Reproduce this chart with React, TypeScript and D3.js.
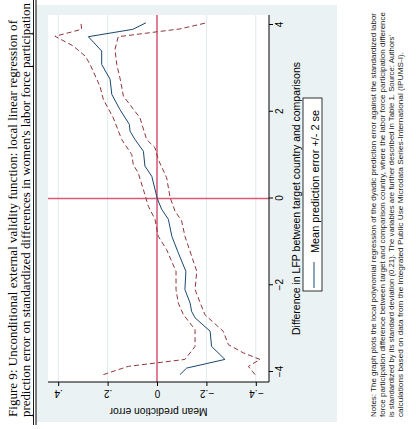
import React, { useEffect, useRef } from 'react';
import * as d3 from 'd3';

// Standardized LFP difference (x) vs. mean prediction error (y)
const lfpTicks = [-4, -2, 0, 2, 4];
const errTicks = [-0.4, -0.2, 0, 0.2, 0.4];

const meanErr: [number, number][] = [
  [-4.06, -0.093], [-3.91, -0.12], [-3.71, -0.275], [-3.41, -0.221], [-3.06, -0.215],
  [-2.75, -0.154], [-2.6, -0.14], [-2.41, -0.134], [-2.1, -0.113], [-1.68, -0.117],
  [-1.25, -0.086], [-0.87, -0.06], [-0.48, -0.046], [-0.25, -0.019], [0.0, -0.001],
  [0.51, 0.021], [0.75, 0.049], [1.09, 0.055], [1.36, 0.089], [1.55, 0.109],
  [1.71, 0.112], [2.05, 0.15], [2.4, 0.183], [2.75, 0.19], [3.09, 0.224],
  [3.4, 0.224], [3.73, 0.278], [3.9, 0.098], [4.05, 0.045],
];

const upperBand: [number, number][] = [
  [-4.06, 0.217], [-3.87, 0.116], [-3.71, -0.113], [-3.41, -0.154], [-3.02, -0.154],
  [-2.68, -0.107], [-2.41, -0.086], [-2.1, -0.077], [-1.68, -0.077], [-1.18, -0.039],
  [-0.87, -0.005], [-0.48, 0.008], [-0.18, 0.035], [0.09, 0.049], [0.59, 0.076],
  [0.78, 0.096], [1.01, 0.102], [1.36, 0.143], [1.86, 0.177], [2.28, 0.217],
  [2.59, 0.231], [3.09, 0.271], [3.28, 0.29], [3.52, 0.34], [3.74, 0.413],
  [3.9, 0.305], [4.05, 0.308],
];

const lowerBand: [number, number][] = [
  [-4.06, -0.397], [-3.87, -0.37], [-3.71, -0.417], [-3.56, -0.35], [-3.37, -0.289],
  [-3.06, -0.268], [-2.68, -0.194], [-2.1, -0.154], [-1.68, -0.161], [-0.87, -0.113],
  [-0.52, -0.1], [-0.29, -0.073], [0.02, -0.053], [0.48, -0.039], [0.9, -0.005],
  [1.17, 0.008], [1.36, 0.042], [1.86, 0.069], [2.36, 0.136], [2.78, 0.15],
  [3.09, 0.163], [3.44, 0.17], [3.73, 0.157], [3.91, -0.093], [4.05, -0.201],
];

const titleLines = [
  'Figure 9: Unconditional external validity function: local linear regression of',
  "prediction error on standardized differences in women's labor force participation",
];

const noteLines = [
  'Notes: The graph plots the local polynomial regression of the dyadic prediction error against the standardized labor',
  'force participation difference between target and comparison country, where the labor force participation difference',
  "is standardized by its standard deviation (0.21).  The variables are further described in Table 1.   Source: Authors'",
  'calculations based on data from the Integrated Public Use Microdata Series-International (IPUMS-I).',
];

const W = 416;
const H = 429;

const App = () => {
  const svgRef = useRef<SVGSVGElement>(null);

  useEffect(() => {
    const svg = d3.select(svgRef.current);
    svg.selectAll('*').remove();

    svg.append('rect').attr('width', W).attr('height', H).attr('fill', '#fff');

    // page laid out upright (429 wide, 416 tall), then turned a quarter left
    const page = svg.append('g').attr('transform', `translate(0,${H}) rotate(-90)`);

    const sans = "'Liberation Sans', Arial, sans-serif";

    // graph region
    page.append('rect')
      .attr('x', 7).attr('y', 36)
      .attr('width', 417).attr('height', 301)
      .attr('fill', '#eaf2f3');

    const plot = { left: 47, right: 414, top: 48, bottom: 269 };

    page.append('rect')
      .attr('x', plot.left).attr('y', plot.top)
      .attr('width', plot.right - plot.left).attr('height', plot.bottom - plot.top)
      .attr('fill', '#fff');

    const x = d3.scaleLinear().domain([-4, 4]).range([57, 404]);
    const y = d3.scaleLinear().domain([-0.4, 0.4]).range([255.8, 58.2]);

    // grid
    page.append('g')
      .selectAll('line')
      .data(errTicks)
      .enter().append('line')
      .attr('x1', plot.left).attr('x2', plot.right)
      .attr('y1', d => y(d)).attr('y2', d => y(d))
      .attr('stroke', '#e1eaec')
      .attr('stroke-width', 1);

    // reference lines at zero
    page.append('line')
      .attr('x1', plot.left).attr('x2', plot.right)
      .attr('y1', y(0)).attr('y2', y(0))
      .attr('stroke', '#db5a77').attr('stroke-width', 1.5);
    page.append('line')
      .attr('x1', x(0)).attr('x2', x(0))
      .attr('y1', plot.top).attr('y2', plot.bottom)
      .attr('stroke', '#db5a77').attr('stroke-width', 1.5);

    const line = d3.line<[number, number]>()
      .x(d => x(d[0]))
      .y(d => y(d[1]));

    [upperBand, lowerBand].forEach(band => {
      page.append('path')
        .datum(band)
        .attr('fill', 'none')
        .attr('stroke', '#90353b')
        .attr('stroke-width', 1)
        .attr('stroke-dasharray', '5,3')
        .attr('d', line);
    });

    page.append('path')
      .datum(meanErr)
      .attr('fill', 'none')
      .attr('stroke', '#1a476f')
      .attr('stroke-width', 1)
      .attr('d', line);

    // axes
    const xAxis = page.append('g')
      .attr('transform', `translate(0,${plot.bottom})`)
      .call(d3.axisBottom(x).tickValues(lfpTicks).tickSize(4).tickPadding(3).tickFormat(d3.format('d')));
    xAxis.select('.domain').remove();
    xAxis.selectAll('text').style('font-family', sans).style('font-size', '10px').attr('fill', '#000');

    const fmtErr = (d: number) => (d === 0 ? '0' : d3.format('.1f')(d).replace('0.', '.'));
    const yAxis = page.append('g')
      .attr('transform', `translate(${plot.left},0)`)
      .call(d3.axisLeft(y).tickValues(errTicks).tickSize(4).tickFormat(d => fmtErr(+d)));
    yAxis.select('.domain').remove();
    yAxis.selectAll('text')
      .attr('x', null).attr('dy', null)
      .attr('transform', 'translate(-7.5,0) rotate(-90)')
      .attr('text-anchor', 'middle')
      .style('font-family', sans).style('font-size', '10px').attr('fill', '#000');

    page.append('line')
      .attr('x1', plot.left).attr('x2', plot.right)
      .attr('y1', plot.bottom).attr('y2', plot.bottom)
      .attr('stroke', '#000');
    page.append('line')
      .attr('x1', plot.left).attr('x2', plot.left)
      .attr('y1', plot.top).attr('y2', plot.bottom)
      .attr('stroke', '#000');

    // axis titles
    page.append('text')
      .attr('x', 230.5).attr('y', 300)
      .attr('text-anchor', 'middle')
      .attr('textLength', 273).attr('lengthAdjust', 'spacingAndGlyphs')
      .style('font-family', sans).style('font-size', '10.5px')
      .text('Difference in LFP between target country and comparisons');

    page.append('text')
      .attr('transform', `translate(21,${(plot.top + plot.bottom) / 2}) rotate(-90)`)
      .attr('text-anchor', 'middle')
      .attr('textLength', 98).attr('lengthAdjust', 'spacingAndGlyphs')
      .style('font-family', sans).style('font-size', '10.5px')
      .text('Mean prediction error');

    // legend
    page.append('rect')
      .attr('x', 138).attr('y', 303)
      .attr('width', 193).attr('height', 19)
      .attr('fill', '#fff').attr('stroke', '#000').attr('stroke-width', 0.8);
    page.append('line')
      .attr('x1', 141).attr('x2', 167)
      .attr('y1', 314).attr('y2', 314)
      .attr('stroke', '#1a476f').attr('stroke-width', 1);
    page.append('text')
      .attr('x', 176).attr('y', 318.5)
      .attr('textLength', 143).attr('lengthAdjust', 'spacingAndGlyphs')
      .style('font-family', sans).style('font-size', '10px')
      .text('Mean prediction error +/- 2 se');

    // caption above the figure
    const titleLen = [397, 414];
    page.selectAll('.title')
      .data(titleLines)
      .enter().append('text')
      .attr('class', 'title')
      .attr('x', 12).attr('y', (d, i) => 17 + i * 13)
      .attr('textLength', (d, i) => titleLen[i]).attr('lengthAdjust', 'spacingAndGlyphs')
      .style('font-family', "'Liberation Serif', 'Times New Roman', serif")
      .style('font-size', '13px')
      .text(d => d);

    page.append('line')
      .attr('x1', 4).attr('x2', H).attr('y1', 33.5).attr('y2', 33.5)
      .attr('stroke', '#000').attr('stroke-width', 0.9);
    page.append('line')
      .attr('x1', 4).attr('x2', H).attr('y1', 36).attr('y2', 36)
      .attr('stroke', '#000').attr('stroke-width', 1);

    // notes below the figure
    const noteLen = [404, 405, 382, 365];
    page.selectAll('.note')
      .data(noteLines)
      .enter().append('text')
      .attr('class', 'note')
      .attr('x', 12).attr('y', (d, i) => 375.5 + i * 9.2)
      .attr('textLength', (d, i) => noteLen[i]).attr('lengthAdjust', 'spacingAndGlyphs')
      .style('font-family', "'Liberation Sans Narrow', 'Liberation Sans', sans-serif")
      .style('font-size', '7.5px')
      .attr('fill', '#222')
      .text(d => d);
  }, []);

  return (
    <svg
      ref={svgRef}
      width={W}
      height={H}
      style={{ position: 'absolute', left: 0, top: 0 }}
    />
  );
};

export default App;
